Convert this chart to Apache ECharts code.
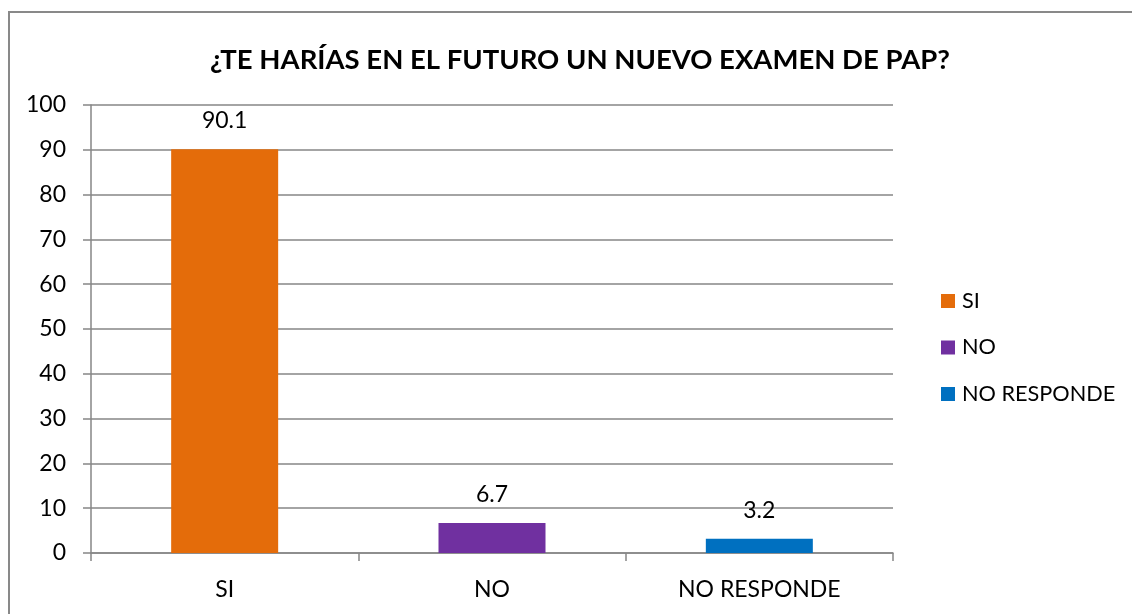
<!DOCTYPE html>
<html><head><meta charset="utf-8">
<script src="https://cdn.jsdelivr.net/npm/echarts@6/dist/echarts.min.js"></script>
<style>html,body{margin:0;padding:0;background:#fff}#c{width:1132px;height:614px}</style>
</head><body><div id="c"></div>
<script>
const titleText = '¿TE HARÍAS EN EL FUTURO UN NUEVO EXAMEN DE PAP?';
const categories = ['SI', 'NO', 'NO RESPONDE'];
const values = [90.1, 6.7, 3.2];
const colors = ['#E46C0A', '#7030A0', '#0070C0'];
const yTicks = [0, 10, 20, 30, 40, 50, 60, 70, 80, 90, 100];

const FONT = 'Lato';
const chart = echarts.init(document.getElementById('c'));
const series = categories.map((name, i) => ({
  name: name,
  type: 'bar',
  stack: 'all',
  barWidth: 107,
  itemStyle: { color: colors[i] },
  label: { show: true, position: 'top', distance: 17, color: '#000', fontSize: 23, fontFamily: FONT },
  data: values.map((v, j) => (j === i ? v : null))
}));
chart.setOption({
  animation: false,
  textStyle: { fontFamily: FONT },
  graphic: [{
    type: 'rect', silent: true,
    shape: { x: 9, y: 12, width: 1200, height: 700 },
    style: { fill: 'none', stroke: '#898989', lineWidth: 2 }
  }],
  title: {
    text: titleText, left: 575, top: 41, textAlign: 'center',
    textStyle: { fontSize: 27.5, fontWeight: 'bold', color: '#000', fontFamily: FONT }
  },
  legend: {
    orient: 'vertical', left: 936, top: 285, itemWidth: 14, itemHeight: 14, itemGap: 24.5,
    icon: 'rect',
    textStyle: { fontSize: 21.7, color: '#000', fontFamily: FONT, padding: [0, 0, 0, 2] },
    data: categories
  },
  grid: { left: 91, right: 239, top: 105, bottom: 61, containLabel: false },
  xAxis: {
    type: 'category', data: categories,
    axisLine: { lineStyle: { color: '#868686', width: 1.5 } },
    axisTick: { show: true, length: 8, alignWithLabel: false, lineStyle: { color: '#868686', width: 1.5 } },
    axisLabel: { color: '#000', fontSize: 23, margin: 25, fontFamily: FONT }
  },
  yAxis: {
    type: 'value', min: yTicks[0], max: yTicks[yTicks.length - 1], interval: 10,
    axisLine: { show: true, lineStyle: { color: '#868686', width: 1.5 } },
    axisTick: { show: true, length: 8, lineStyle: { color: '#868686', width: 1.5 } },
    axisLabel: { color: '#000', fontSize: 23, margin: 25, fontFamily: FONT },
    splitLine: { show: true, lineStyle: { color: '#868686', width: 1.5 } }
  },
  series: series
});
</script></body></html>
